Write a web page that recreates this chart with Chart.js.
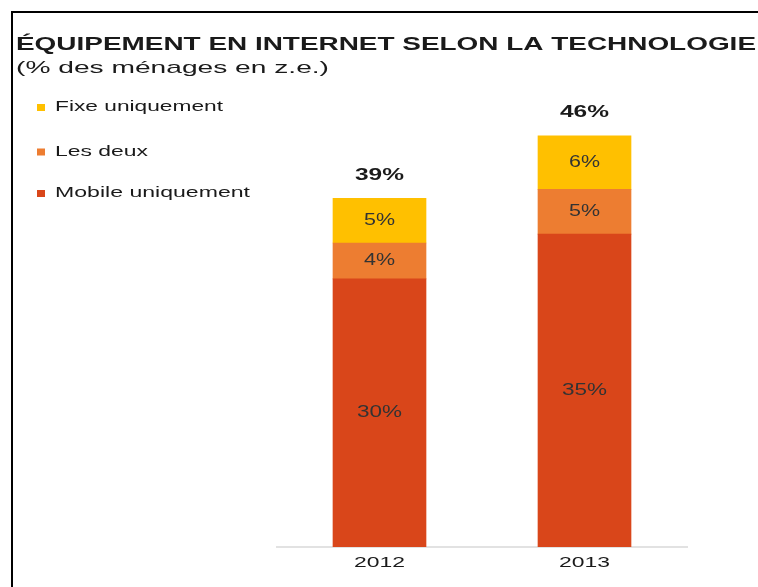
<!DOCTYPE html>
<html>
<head>
<meta charset="utf-8">
<script src="https://cdn.jsdelivr.net/npm/chart.js@4"></script>
<style>
  html, body { margin: 0; padding: 0; background: #fff; }
  #wrap { position: relative; width: 758px; height: 587px; overflow: hidden; }
  #frame { position: absolute; left: 11px; top: 11px; width: 760px; height: 600px;
           border-left: 2px solid #000; border-top: 2px solid #000; }
  canvas { position: absolute; left: 0; top: 0; }
</style>
</head>
<body>
<div id="wrap">
  <div id="frame"></div>
  <canvas id="chart" width="758" height="587"></canvas>
</div>
<script>
const years = ["2012", "2013"];
const mobileOnly = [30, 35];
const both = [4, 5];
const fixedOnly = [5, 6];
const totals = [39, 46];
const legendLabels = ["Fixe uniquement", "Les deux", "Mobile uniquement"];

const FONT = "'Liberation Sans', Arial, sans-serif";

// the reference text is stretched sideways, so draw it squeezed into a target width
function wideText(ctx, text, x, y, width) {
  const sx = width / ctx.measureText(text).width;
  ctx.save();
  ctx.translate(x, y);
  ctx.scale(sx, 1);
  ctx.fillText(text, 0, 0);
  ctx.restore();
}

const decorations = {
  id: "decorations",
  afterDraw(chart) {
    const ctx = chart.ctx;
    const { x, y } = chart.scales;
    ctx.save();

    // title + subtitle
    ctx.fillStyle = "#1a1a1a";
    ctx.textAlign = "left";
    ctx.textBaseline = "alphabetic";
    ctx.font = "bold 18.5px " + FONT;
    wideText(ctx, "ÉQUIPEMENT EN INTERNET SELON LA TECHNOLOGIE", 16, 50, 740);
    ctx.font = "17px " + FONT;
    wideText(ctx, "(% des ménages en z.e.)", 16, 73, 313);

    // legend
    const colors = [fixedOnly, both, mobileOnly].map((d) =>
      chart.data.datasets.find((ds) => ds.data === d).backgroundColor
    );
    const rows = [111, 155.5, 197];
    const widths = [168, 93, 195];
    ctx.font = "15px " + FONT;
    legendLabels.forEach((label, i) => {
      ctx.fillStyle = colors[i];
      ctx.fillRect(37, rows[i] - 7, 8, 7);
      ctx.fillStyle = "#1a1a1a";
      wideText(ctx, label, 55, rows[i], widths[i]);
    });

    // years under the axis
    ctx.textAlign = "center";
    ctx.textBaseline = "middle";
    ctx.font = "15.5px " + FONT;
    years.forEach((yr, i) => {
      wideText(ctx, yr, x.getPixelForValue(i), 563, 51);
    });

    // totals above the bars
    ctx.font = "bold 16.5px " + FONT;
    totals.forEach((t, i) => {
      wideText(ctx, t + "%", x.getPixelForValue(i), y.getPixelForValue(t) - 23, 49);
    });

    // segment labels
    ctx.font = "16px " + FONT;
    ctx.fillStyle = "#333";
    chart.data.datasets.forEach((ds, di) => {
      chart.getDatasetMeta(di).data.forEach((bar, i) => {
        const txt = ds.data[i] + "%";
        const w = txt.length === 3 ? 45 : 31;
        wideText(ctx, txt, bar.x, (bar.y + bar.base) / 2, w);
      });
    });
    ctx.restore();
  },
};

new Chart(document.getElementById("chart"), {
  type: "bar",
  data: {
    labels: years,
    datasets: [
      { label: "Mobile uniquement", data: mobileOnly, backgroundColor: "#D9461A" },
      { label: "Les deux", data: both, backgroundColor: "#ED7D31" },
      { label: "Fixe uniquement", data: fixedOnly, backgroundColor: "#FFC000" },
    ],
  },
  options: {
    responsive: false,
    animation: false,
    layout: { padding: { left: 277, right: 71, top: 100, bottom: 32 } },
    plugins: { legend: { display: false }, tooltip: { enabled: false } },
    datasets: { bar: { barThickness: 93 } },
    scales: {
      x: {
        stacked: true,
        grid: { display: false },
        border: { color: "#e2e2e2", width: 2 },
        ticks: { display: false },
      },
      y: { stacked: true, display: false, min: 0, max: 50 },
    },
  },
  plugins: [decorations],
});
</script>
</body>
</html>
